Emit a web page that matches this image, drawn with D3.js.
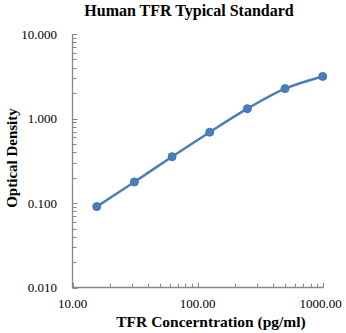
<!DOCTYPE html>
<html><head><meta charset="utf-8">
<script src="https://cdn.jsdelivr.net/npm/d3@7"></script>
<style>body{margin:0;background:#fff}svg{display:block}</style>
</head><body>
<svg id="c" width="346" height="333"></svg>
<script>
const concentrations = [15.625, 31.25, 62.5, 125, 250, 500, 1000];
const odValues = [0.091, 0.178, 0.354, 0.69, 1.31, 2.26, 3.15];
const yTickValues = [0.01, 0.1, 1, 10];
const yTickLabels = ["0.010", "0.100", "1.000", "10.000"];
const xTickValues = [10, 100, 1000];
const xTickLabels = ["10.00", "100.00", "1000.00"];

const svg = d3.select("#c");
const x = d3.scaleLog().domain([10, 1000]).range([72.5, 322.7]);
const y = d3.scaleLog().domain([0.01, 10]).range([287.7, 34]);
const axisColor = "#868686";
const serif = "'Liberation Serif','Times New Roman',serif";

// minor ticks
const xMinor = [], yMinor = [];
[10, 100].forEach(d => { for (let k = 2; k <= 9; k++) xMinor.push(d * k); });
[0.01, 0.1, 1].forEach(d => { for (let k = 2; k <= 9; k++) yMinor.push(d * k); });

const g = svg.append("g");
g.selectAll(".xm").data(xMinor).enter().append("line")
  .attr("x1", d => Math.round(x(d)) + 0.5).attr("x2", d => Math.round(x(d)) + 0.5)
  .attr("y1", 287.7).attr("y2", 283.7).attr("stroke", axisColor).attr("stroke-width", 1);
g.selectAll(".ym").data(yMinor).enter().append("line")
  .attr("y1", d => Math.round(y(d)) + 0.5).attr("y2", d => Math.round(y(d)) + 0.5)
  .attr("x1", 72.5).attr("x2", 76.5).attr("stroke", axisColor).attr("stroke-width", 1);
g.selectAll(".yM").data(yTickValues).enter().append("line")
  .attr("y1", d => Math.round(y(d)) + 0.5).attr("y2", d => Math.round(y(d)) + 0.5)
  .attr("x1", 72.5).attr("x2", 77.5).attr("stroke", axisColor).attr("stroke-width", 1);
g.selectAll(".xM").data(xTickValues).enter().append("line")
  .attr("x1", d => Math.round(x(d)) + 0.5).attr("x2", d => Math.round(x(d)) + 0.5)
  .attr("y1", 287.7).attr("y2", 282.7).attr("stroke", axisColor).attr("stroke-width", 1);

// axis lines
g.append("line").attr("x1", 72.5).attr("x2", 72.5).attr("y1", 34).attr("y2", 288)
  .attr("stroke", axisColor).attr("stroke-width", 1.3);
g.append("line").attr("x1", 72).attr("x2", 323).attr("y1", 287.5).attr("y2", 287.5)
  .attr("stroke", axisColor).attr("stroke-width", 1.3);

// tick labels
svg.selectAll(".yl").data(yTickValues).enter().append("text")
  .attr("x", 57).attr("y", d => y(d) + 4.5).attr("text-anchor", "end")
  .attr("font-family", serif).attr("font-size", 13).attr("fill", "#000")
  .text((d, i) => yTickLabels[i]);
svg.selectAll(".xl").data(xTickValues).enter().append("text")
  .attr("x", d => x(d) - (d === 1000 ? 2 : 0)).attr("y", 308).attr("text-anchor", "middle")
  .attr("font-family", serif).attr("font-size", 13).attr("fill", "#000")
  .text((d, i) => xTickLabels[i]);

// titles
svg.append("text").attr("x", 189).attr("y", 16).attr("text-anchor", "middle")
  .attr("font-family", serif).attr("font-size", 16).attr("font-weight", "bold")
  .text("Human TFR Typical Standard");
svg.append("text").attr("x", 211).attr("y", 327).attr("text-anchor", "middle")
  .attr("font-family", serif).attr("font-size", 15.5).attr("font-weight", "bold")
  .text("TFR Concerntration (pg/ml)");
svg.append("text").attr("transform", "translate(17,158) rotate(-90)").attr("text-anchor", "middle")
  .attr("font-family", serif).attr("font-size", 15).attr("font-weight", "bold")
  .text("Optical Density");

// series
const pts = concentrations.map((c, i) => [c, odValues[i]]);
const line = d3.line().x(d => x(d[0])).y(d => y(d[1])).curve(d3.curveCatmullRom.alpha(0.5));
svg.append("path").attr("d", line(pts)).attr("fill", "none")
  .attr("stroke", "#4a7ebb").attr("stroke-width", 2.5).attr("stroke-linecap", "round");
svg.selectAll(".pt").data(pts).enter().append("circle")
  .attr("cx", d => x(d[0])).attr("cy", d => y(d[1])).attr("r", 4)
  .attr("fill", "#4a7ebb").attr("stroke", "#3f73b3").attr("stroke-width", 1);
</script>
</body></html>
